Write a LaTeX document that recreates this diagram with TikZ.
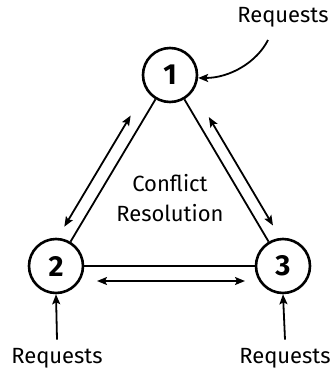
\documentclass[tikz,border=0pt]{standalone}
\usepackage{fontspec}
\setmainfont{Fira Sans}
\usetikzlibrary{arrows.meta,calc}
\begin{document}
\begin{tikzpicture}[x=1pt,y=-1pt,
  proc/.style={circle,draw,line width=2.6pt,minimum size=54pt,inner sep=0pt,
    font=\fontsize{29}{29}\selectfont\bfseries},
  link/.style={line width=1.8pt},
  msg/.style={line width=1.8pt,{Stealth[length=10pt,width=8pt,inset=2pt]}-{Stealth[length=10pt,width=8pt,inset=2pt]}},
  req/.style={line width=1.8pt,-{Stealth[length=10pt,width=8pt,inset=2pt]}},
  lbl/.style={font=\fontsize{22}{30}\selectfont}]
\useasboundingbox (0,0) rectangle (336,373);

% the three processes
\node[proc] (n1) at (170,75) {1};
\node[proc] (n2) at (56,266) {2};
\node[proc] (n3) at (283,266) {3};

% links between processes
\draw[link] (n1) -- (n2);
\draw[link] (n1) -- (n3);
\draw[link] (n2) -- (n3);

% message exchange arrows beside each link
\draw[msg, shorten <=55pt, shorten >=38pt]
  ($(n1.center)!13pt!-90:(n2.center)$) -- ($(n2.center)!13pt!90:(n1.center)$);
\draw[msg, shorten <=56pt, shorten >=40pt]
  ($(n1.center)!12pt!90:(n3.center)$) -- ($(n3.center)!12pt!-90:(n1.center)$);
\draw[msg, shorten <=41pt, shorten >=38pt]
  ($(n2.center)!15pt!-90:(n3.center)$) -- ($(n3.center)!15pt!90:(n2.center)$);

% centre label
\node[lbl, align=center] (cr) at (170,198) {Conflict\\Resolution};

% incoming requests
\node[lbl] (rq1) at (283,17) {Requests};
\node[lbl] (rq2) at (57,358) {Requests};
\node[lbl] (rq3) at (285,358) {Requests};

\coordinate (rq1s) at (268,40);
\draw[req] (rq1s) .. controls (257,62) and (230,78) .. (n1.-6);
\draw[req] ([yshift=5pt]rq2.north) -- (n2.south);
\draw[req] ([yshift=5pt]rq3.north) -- (n3.south);
\end{tikzpicture}
\end{document}
